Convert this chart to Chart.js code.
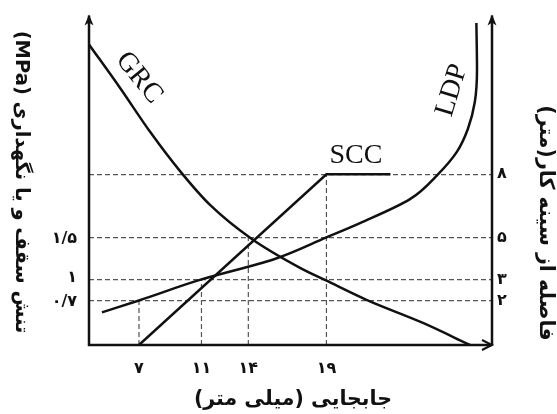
<!DOCTYPE html>
<html>
<head>
<meta charset="utf-8">
<script src="https://cdn.jsdelivr.net/npm/chart.js@4"></script>
<style>
  html, body { margin: 0; padding: 0; background: #fff; }
  #wrap { width: 557px; height: 414px; }
</style>
</head>
<body>
<div id="wrap"><canvas id="tunnelChart" width="557" height="414"></canvas></div>
<script>
// displacement ticks (mm) and the heights the guide lines climb to (m, right axis)
const dispTicks = [7, 11, 14, 19];
const guideTops = [2, 3, 5, 8];
// left axis: roof / support pressure (MPa)
const stressTicks = [0.7, 1, 1.5];
// right axis: distance from the face (m)
const distTicks = [2, 3, 5, 8];

// ground reaction curve
const grcDisp = [3.8, 5.78, 7.71, 9.63, 11.55, 14.2, 17.31, 18.97, 21.6, 25.18, 28.19];
const grcStress = [3.97, 3.42, 2.86, 2.36, 1.93, 1.5, 1.13, 0.97, 0.72, 0.43, 0.15];

// support characteristic curve
const sccDisp = [7, 19, 23.1];
const sccStress = [0.15, 2.32, 2.32];

// longitudinal displacement profile
const ldpDisp = [4.63, 7, 11, 15.6, 19, 21.15, 24.35, 26.14, 27.36, 28.06, 28.5, 28.64, 28.6];
const ldpDist = [1.43, 2, 3, 3.95, 5, 5.68, 6.82, 8.0, 9.08, 10.17, 11.44, 13.0, 15.2];

const faDigits = "۰۱۲۳۴۵۶۷۸۹";
function toFa(v) {
  return String(v).replace(/\d/g, d => faDigits[d]).replace(".", "/");
}

function pairs(xs, ys) {
  return xs.map((x, i) => ({ x: x, y: ys[i] }));
}

const tickFont = { family: "DejaVu Sans", size: 16, weight: "bold" };

// dashed guides, axis lines with arrows, curve names and axis titles
const extras = {
  id: "extras",
  beforeDatasetsDraw(chart) {
    const { ctx, chartArea, scales } = chart;
    ctx.save();
    ctx.strokeStyle = "#555";
    ctx.lineWidth = 1.2;
    ctx.setLineDash([5, 3]);
    dispTicks.forEach((d, i) => {
      const x = scales.x.getPixelForValue(d);
      const yTop = scales.y2.getPixelForValue(guideTops[i]);
      ctx.beginPath();
      ctx.moveTo(x, chartArea.bottom);
      ctx.lineTo(x, yTop);
      ctx.stroke();
    });
    ctx.restore();
  },
  afterDatasetsDraw(chart) {
    const { ctx, chartArea, scales } = chart;
    const { left, right, top, bottom } = chartArea;
    ctx.save();
    ctx.strokeStyle = "#111";
    ctx.lineWidth = 2.5;
    ctx.beginPath();
    ctx.moveTo(left, top + 1);
    ctx.lineTo(left, bottom);
    ctx.lineTo(right, bottom);
    ctx.moveTo(right, bottom);
    ctx.lineTo(right, top + 1);
    ctx.stroke();

    // arrow heads
    ctx.fillStyle = "#111";
    [left, right].forEach(x => {
      ctx.beginPath();
      ctx.moveTo(x, top);
      ctx.lineTo(x - 4.5, top + 11);
      ctx.lineTo(x, top + 8);
      ctx.lineTo(x + 4.5, top + 11);
      ctx.closePath();
      ctx.fill();
    });
    ctx.lineWidth = 2;
    ctx.beginPath();
    ctx.moveTo(right - 10, bottom - 5);
    ctx.lineTo(right, bottom);
    ctx.lineTo(right - 10, bottom + 5);
    ctx.stroke();

    // curve names
    ctx.font = "28px 'Liberation Serif'";
    ctx.textAlign = "center";
    ctx.textBaseline = "middle";
    const names = [
      { text: "GRC", x: 7.0, y: 12.6, rot: 51 },
      { text: "SCC", x: 20.89, y: 8.9, rot: 0 },
      { text: "LDP", x: 27.04, y: 12.0, rot: -73 }
    ];
    names.forEach(n => {
      ctx.save();
      ctx.translate(scales.x.getPixelForValue(n.x), scales.y2.getPixelForValue(n.y));
      ctx.rotate(n.rot * Math.PI / 180);
      ctx.fillText(n.text, 0, 0);
      ctx.restore();
    });

    // axis titles
    ctx.direction = "rtl";
    const titles = [
      { text: "تنش سقف و یا نگهداری (MPa)", x: 21, y: 182, rot: 90, size: 19.5 },
      { text: "فاصله از سینه کار(متر)", x: 545, y: 223, rot: 90, size: 20.5 },
      { text: "جابجایی (میلی متر)", x: 293, y: 400, rot: 0, size: 20.5 }
    ];
    titles.forEach(t => {
      ctx.save();
      ctx.font = "bold " + t.size + "px 'DejaVu Sans'";
      ctx.translate(t.x, t.y);
      ctx.rotate(t.rot * Math.PI / 180);
      ctx.fillText(t.text, 0, 0);
      ctx.restore();
    });
    ctx.restore();
  }
};

const lineStyle = {
  borderColor: "#111",
  borderWidth: 2.5,
  pointRadius: 0,
  fill: false
};

const ctx = document.getElementById("tunnelChart").getContext("2d");
const tunnelChart = new Chart(ctx, {
  type: "line",
  data: {
    datasets: [
      { ...lineStyle, label: "GRC", data: pairs(grcDisp, grcStress), yAxisID: "y", cubicInterpolationMode: "monotone" },
      { ...lineStyle, label: "SCC", data: pairs(sccDisp, sccStress), yAxisID: "y", tension: 0 },
      // LDP rises almost vertically near the top, so it is interpolated along the distance axis
      { ...lineStyle, label: "LDP", data: pairs(ldpDisp, ldpDist), yAxisID: "y2", indexAxis: "y", cubicInterpolationMode: "monotone" }
    ]
  },
  options: {
    responsive: false,
    animation: false,
    events: [],
    layout: { padding: { top: 12, left: 0, right: 0, bottom: 0 } },
    plugins: {
      legend: { display: false },
      tooltip: { enabled: false }
    },
    scales: {
      x: {
        type: "linear",
        min: 3.8,
        max: 29.6,
        grid: { display: false },
        border: { display: false },
        afterBuildTicks: s => { s.ticks = dispTicks.map(v => ({ value: v })); },
        afterFit: s => { s.height = 69; },
        ticks: { font: tickFont, color: "#111", padding: 6, maxRotation: 0, callback: v => toFa(v) }
      },
      y: {
        type: "linear",
        position: "left",
        min: 0.15,
        max: 4.35,
        grid: { display: false },
        border: { display: false },
        afterBuildTicks: s => { s.ticks = stressTicks.map(v => ({ value: v })); },
        afterFit: s => { s.width = 89; },
        ticks: { font: tickFont, color: "#111", padding: 4, callback: v => toFa(v) }
      },
      y2: {
        type: "linear",
        position: "right",
        min: -0.12,
        max: 15.6,
        grid: { drawOnChartArea: true, drawTicks: false, color: "#555", lineWidth: 1.2 },
        border: { display: false, dash: [5, 3] },
        afterBuildTicks: s => { s.ticks = distTicks.map(v => ({ value: v })); },
        afterFit: s => { s.width = 65; },
        ticks: { font: tickFont, color: "#111", padding: 5, callback: v => toFa(v) }
      }
    }
  },
  plugins: [extras]
});
</script>
</body>
</html>
